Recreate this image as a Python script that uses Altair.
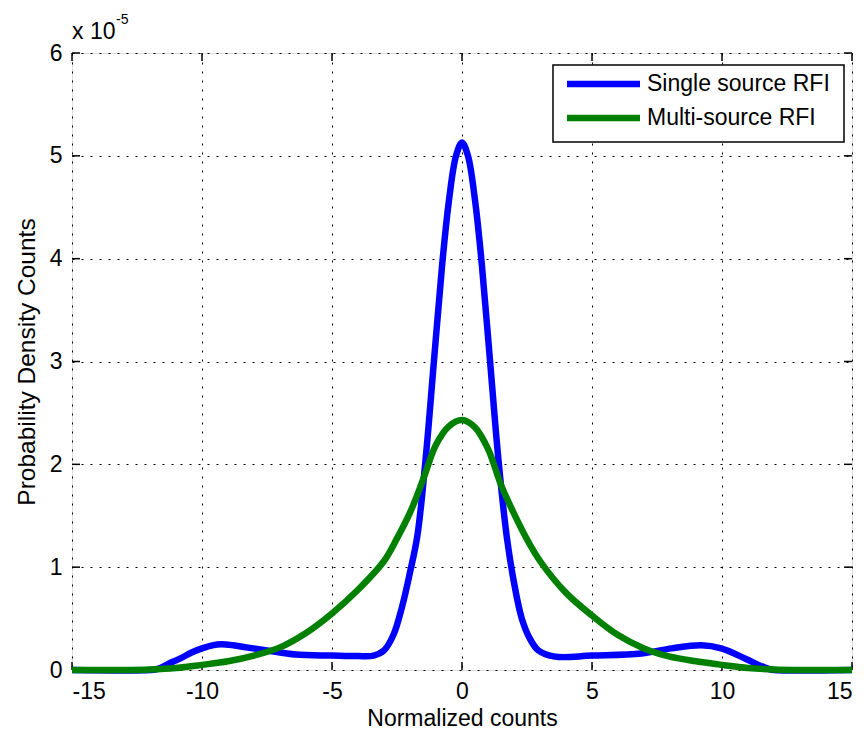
import altair as alt
import pandas as pd

# values in units of 1e-5
single_x = [-15, -12, -11.7, -11.3, -10.85, -10.4, -10, -9.6, -9.25, -8.8, -8.3, -7.5, -6.4, -5, -4, -3.4, -3.0, -2.64, -2.3, -2.0,
            -1.72, -1.4, -1.08, -0.76, -0.5, -0.23, 0, 0.23, 0.5, 0.76, 1.08, 1.4, 1.72, 2.0, 2.3, 2.6,
            2.94, 3.58, 5, 6.9, 8.06, 9.2, 9.97, 10.9, 11.4, 11.8, 12, 15]
single_y = [0, 0, 0.01, 0.06, 0.11, 0.17, 0.21, 0.24, 0.25, 0.24, 0.22, 0.19, 0.15, 0.14, 0.135, 0.14, 0.19, 0.34, 0.62, 0.95,
            1.3, 2.05, 3.0, 3.95, 4.57, 5.0, 5.13, 5.0, 4.57, 3.95, 3.0, 2.05, 1.3, 0.85, 0.5, 0.31,
            0.19, 0.13, 0.14, 0.16, 0.21, 0.24, 0.21, 0.11, 0.05, 0.01, 0, 0]
multi_x = [-15, -13, -12, -11, -10, -9, -8, -7, -6, -5, -4, -3, -2.5, -2, -1.5, -1, -0.5, 0,
           0.5, 1, 1.5, 2, 2.5, 3, 4, 5, 6, 7, 8, 9, 10, 11, 12, 13, 15]
multi_y = [0, 0, 0.005, 0.02, 0.05, 0.085, 0.14, 0.22, 0.36, 0.55, 0.78, 1.06, 1.28, 1.53, 1.85, 2.19, 2.37, 2.43,
           2.36, 2.15, 1.8, 1.52, 1.27, 1.06, 0.75, 0.53, 0.34, 0.21, 0.13, 0.085, 0.05, 0.02, 0.005, 0, 0]
series_names = ["Single source RFI", "Multi-source RFI"]
series_colors = ["#0000FF", "#008000"]
x_ticks = [-15, -10, -5, 0, 5, 10, 15]
y_ticks = [0, 1, 2, 3, 4, 5, 6]

rows = []
for xv, yv in zip(single_x, single_y):
    rows.append({"x": xv, "y": yv, "series": series_names[0], "o": 0})
for xv, yv in zip(multi_x, multi_y):
    rows.append({"x": xv, "y": yv, "series": series_names[1], "o": 1})
df = pd.DataFrame(rows)

W, H = 780, 617
FONT = "Liberation Sans"
FS = 23

xscale = alt.Scale(domain=[-15, 15], nice=False, zero=False)
yscale = alt.Scale(domain=[0, 6], nice=False)
cscale = alt.Scale(domain=series_names, range=series_colors)

xaxis = alt.Axis(values=x_ticks, title="Normalized counts", grid=True, gridDash=[2, 7], gridColor="black",
                 gridOpacity=1, gridWidth=1, tickSize=0, labelPadding=10, labelFontSize=FS, labelColor="black",
                 labelExpr="'' + datum.value",
                 titleFontSize=FS, titleFontWeight="normal", titleColor="black", titlePadding=4,
                 domain=False, labelFont=FONT, titleFont=FONT)
yaxis = alt.Axis(values=y_ticks, title="Probability Density Counts", grid=True, gridDash=[2, 7], gridColor="black",
                 gridOpacity=1, gridWidth=1, tickSize=0, labelPadding=10, labelFontSize=FS, labelColor="black",
                 labelExpr="'' + datum.value",
                 titleFontSize=24.5, titleFontWeight="normal", titleColor="black", titlePadding=10,
                 domain=False, labelFont=FONT, titleFont=FONT)

lines = alt.Chart(df).mark_line(strokeWidth=6.5, interpolate="catmull-rom").encode(
    x=alt.X("x:Q", scale=xscale, axis=xaxis),
    y=alt.Y("y:Q", scale=yscale, axis=yaxis),
    color=alt.Color("series:N", scale=cscale, legend=None),
    order="o:Q",
    detail="series:N",
)

xt = pd.DataFrame({"t": x_ticks})
yt = pd.DataFrame({"t": y_ticks})
tb = alt.Chart(xt).mark_rule(color="black", strokeWidth=1.5).encode(x=alt.X("t:Q", scale=xscale), y=alt.value(H), y2=alt.value(H - 8))
tt = alt.Chart(xt).mark_rule(color="black", strokeWidth=1.5).encode(x=alt.X("t:Q", scale=xscale), y=alt.value(0), y2=alt.value(8))
tl = alt.Chart(yt).mark_rule(color="black", strokeWidth=1.5).encode(y=alt.Y("t:Q", scale=yscale), x=alt.value(0), x2=alt.value(8))
tr = alt.Chart(yt).mark_rule(color="black", strokeWidth=1.5).encode(y=alt.Y("t:Q", scale=yscale), x=alt.value(W), x2=alt.value(W - 8))

# legend built from the series names
leg = pd.DataFrame({"series": series_names, "ly": [31, 65]})
leg_box = alt.Chart(pd.DataFrame({"a": [0]})).mark_rect(fill="white", stroke="black", strokeWidth=1.5).encode(
    x=alt.value(481), x2=alt.value(772), y=alt.value(12), y2=alt.value(89))
leg_lines = alt.Chart(leg).mark_rule(strokeWidth=6.5).encode(
    x=alt.value(495), x2=alt.value(568), y=alt.Y("ly:Q", scale=None),
    color=alt.Color("series:N", scale=cscale, legend=None))
leg_text = alt.Chart(leg).mark_text(align="left", baseline="middle", fontSize=FS, font=FONT, color="black").encode(
    x=alt.value(575), y=alt.Y("ly:Q", scale=None), text="series:N")

exp1 = alt.Chart(pd.DataFrame({"s": ["x 10"]})).mark_text(align="left", baseline="middle", fontSize=FS, font=FONT, color="black").encode(
    text="s:N", x=alt.value(0), y=alt.value(-21))
exp2 = alt.Chart(pd.DataFrame({"s": ["-5"]})).mark_text(align="left", baseline="middle", fontSize=14, font=FONT, color="black").encode(
    text="s:N", x=alt.value(44), y=alt.value(-33))

chart = alt.layer(tb, tt, tl, tr, lines, leg_box, leg_lines, leg_text, exp1, exp2).properties(
    width=W, height=H, autosize="none",
    padding={"left": 64, "top": 45, "right": 7, "bottom": 63},
).configure_view(stroke="black", strokeWidth=1.5).configure(background="white")

chart.save("out.html", embed_options={"renderer": "svg", "actions": False})
